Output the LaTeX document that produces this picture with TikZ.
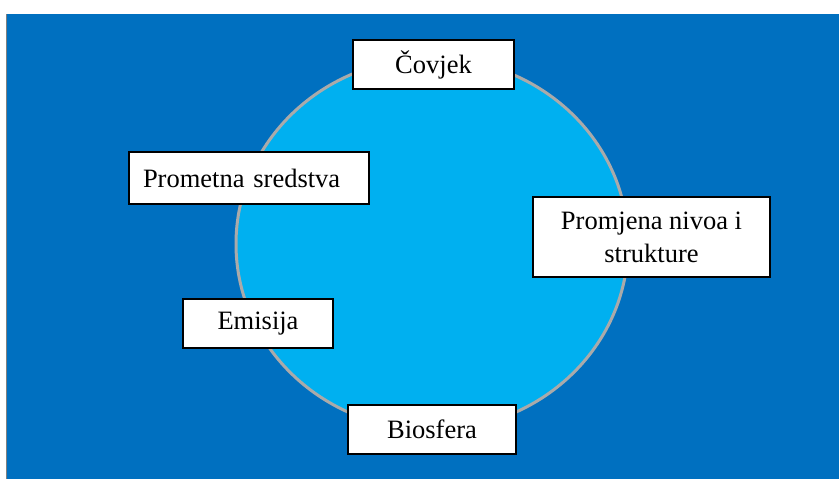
\documentclass[tikz,border=0pt]{standalone}
\usepackage{fontspec}
\setmainfont{Liberation Serif}
\usetikzlibrary{shapes.geometric}
\definecolor{deepblue}{RGB}{0,112,192}
\definecolor{skyblue}{RGB}{0,176,240}
\definecolor{ringgray}{RGB}{170,170,170}
\tikzset{
	backdrop/.style={fill=deepblue, draw=none},
	ring/.style={
		ellipse,
		draw=ringgray,
		line width=3pt,
		fill=skyblue,
		inner sep=0pt,
		minimum width=392pt,
		minimum height=372pt
	},
	labelbox/.style={
		draw=black,
		fill=white,
		line width=2pt,
		inner sep=0pt,
		align=center,
		font={\fontsize{26.5}{33}\selectfont}
	}
}

\begin{document}
\begin{tikzpicture}[x=1pt, y=-1pt]

\useasboundingbox (0,0) rectangle (839,479);
\path[backdrop] (6,14) rectangle (839,479);
\draw[gray, line width=1pt] (6.5,14) -- (6.5,479);

\node(globe)[ring] at (432,244) {};

\node(covjek)[labelbox, minimum width=161pt, minimum height=49pt] at (433.5,64.5) {Čovjek};
\node(promet)[labelbox, minimum height=52pt, text width=212pt, inner xsep=14pt, align=left] at (249,178) {Prometna sredstva};
\node(promjena)[labelbox, minimum width=237pt, minimum height=80pt] at (651.5,237) {Promjena nivoa i\\strukture};
\node(emisija)[labelbox, minimum width=150pt, minimum height=49pt] at (258,323.5) {Emisija};
\node(biosfera)[labelbox, minimum width=168pt, minimum height=49pt] at (432,429.5) {Biosfera};

\end{tikzpicture}
\end{document}
